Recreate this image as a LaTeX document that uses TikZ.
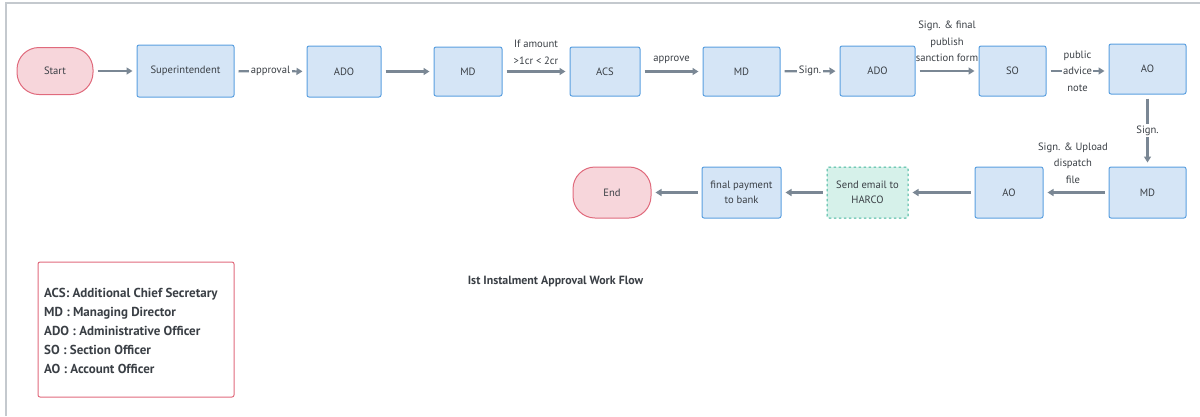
\documentclass[tikz,border=0pt]{standalone}
\usepackage{fontspec}
\setmainfont{PT Sans}
\usetikzlibrary{arrows.meta}
\definecolor{bfill}{HTML}{D5E5F6}
\definecolor{bline}{HTML}{5A9FE0}
\definecolor{rfill}{HTML}{F7D6DB}
\definecolor{rline}{HTML}{E06A7C}
\definecolor{gfill}{HTML}{D6F1EA}
\definecolor{gline}{HTML}{3FB59B}
\definecolor{aline}{HTML}{7A8794}
\definecolor{txt}{HTML}{3A3F45}
\definecolor{frame}{HTML}{C4C9CE}
\tikzset{
  box/.style={draw=bline, fill=bfill, line width=1pt, rounded corners=2pt, text=txt, font=\fontsize{10.6}{15}\selectfont, align=center, inner sep=0pt},
  pill/.style={draw=rline, fill=rfill, line width=1pt, rounded corners=22pt, text=txt, font=\fontsize{10.6}{15}\selectfont, inner sep=0pt},
  gbox/.style={draw=gline, fill=gfill, line width=1pt, dashed, dash pattern=on 2.5pt off 2.5pt, rounded corners=2pt, text=txt, font=\fontsize{10.6}{15}\selectfont, align=center, inner sep=0pt},
  flow/.style={draw=aline, line width=2.2pt, -{Triangle[length=6pt,width=7pt]}, shorten <=4pt, shorten >=4pt},
  lbl/.style={text=txt, font=\fontsize{10.6}{16.5}\selectfont, align=center, inner sep=1pt},
  ilbl/.style={lbl, fill=white, inner sep=1.5pt},
}
\begin{document}
\begin{tikzpicture}[x=1pt,y=-1pt]
\useasboundingbox (0,0) rectangle (1200,416);
\draw[frame, line width=1.2pt] (6,416) -- (6,3) -- (1200,3);
% row 1
\node[pill, minimum width=76pt, minimum height=47pt] (start) at (55,71) {Start};
\node[box, minimum width=97pt, minimum height=52pt] (sup) at (185.5,71) {Superintendent};
\node[box, minimum width=74pt, minimum height=51pt] (ado1) at (344,71.5) {ADO};
\node[box, minimum width=68pt, minimum height=49pt] (md1) at (468,71.5) {MD};
\node[box, minimum width=70pt, minimum height=49pt] (acs) at (605,71.5) {ACS};
\node[box, minimum width=77pt, minimum height=49pt] (md2) at (741.5,71.5) {MD};
\node[box, minimum width=75pt, minimum height=50pt] (ado2) at (877.5,71) {ADO};
\node[box, minimum width=67pt, minimum height=50pt] (so) at (1012.5,71) {SO};
\node[box, minimum width=77pt, minimum height=50pt] (ao1) at (1147.5,69) {AO};
% row 2
\node[box, minimum width=77pt, minimum height=51pt] (md3) at (1147.5,192.5) {MD};
\node[box, minimum width=68pt, minimum height=51pt] (ao2) at (1009,192.5) {AO};
\node[gbox, minimum width=81pt, minimum height=51pt] (harco) at (867.5,192.5) {Send email to\\HARCO};
\node[box, minimum width=79pt, minimum height=51pt] (pay) at (741.5,192.5) {final payment\\to bank};
\node[pill, minimum width=78pt, minimum height=51pt] (end) at (612,192.5) {End};
% connectors
\draw[flow] (start) -- (sup);
\draw[flow] (sup) -- node[ilbl] {approval} (ado1);
\draw[flow] (ado1) -- (md1);
\draw[flow] (md1) -- node[lbl, above=5pt] {If amount\\{>}1cr {<} 2cr} (acs);
\draw[flow] (acs) -- node[lbl, above=6pt] {approve} (md2);
\draw[flow] (md2) -- node[ilbl] {Sign.} (ado2);
\draw[flow] (ado2) -- node[lbl, above=7pt] {Sign. \& final\\publish\\sanction form} (so);
\draw[flow] (so.east) -- node[ilbl] {public\\advice\\note} (so.east -| ao1.west);
\draw[flow] (ao1) -- node[ilbl] {Sign.} (md3);
\draw[flow] (md3) -- node[lbl, above=7pt, xshift=-3pt] {Sign. \& Upload\\dispatch\\file} (ao2);
\draw[flow] (ao2) -- (harco);
\draw[flow] (harco) -- (pay);
\draw[flow] (pay) -- (end);
% legend
\node[draw=rline, line width=1pt, rounded corners=2pt, minimum width=196pt, minimum height=135pt, inner sep=0pt] (legend) at (136,329.5) {};
\node[anchor=west, text=txt, align=left, font=\fontsize{13}{19}\selectfont\bfseries, inner sep=0pt] (legtext) at (44,331) {ACS: Additional Chief Secretary\\MD : Managing Director\\ADO : Administrative Officer\\SO : Section Officer\\AO : Account Officer};
\node[text=txt, font=\fontsize{11.9}{14}\selectfont\bfseries] (title) at (555.5,281) {Ist Instalment Approval Work Flow};
\end{tikzpicture}
\end{document}
